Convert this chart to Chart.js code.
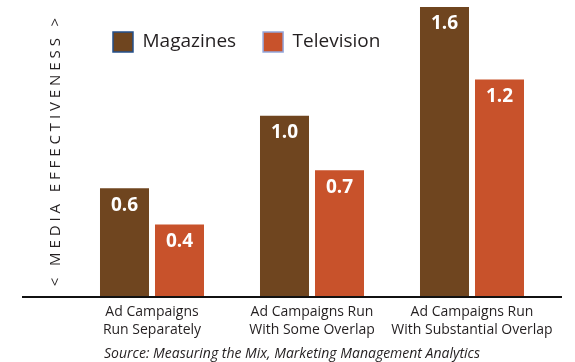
<!DOCTYPE html>
<html>
<head>
<meta charset="utf-8">
<script src="https://cdn.jsdelivr.net/npm/chart.js@4.4.1/dist/chart.umd.min.js"></script>
<style>
  html, body { margin: 0; padding: 0; background: #fff; }
  #wrap { width: 575px; height: 362px; }
</style>
</head>
<body>
<div id="wrap"><canvas id="mixChart"></canvas></div>
<script>
// data
const categories = [
    ['Ad Campaigns', 'Run Separately'],
    ['Ad Campaigns Run', 'With Some Overlap'],
    ['Ad Campaigns Run', 'With Substantial Overlap']
];
const seriesNames = ['Magazines', 'Television'];
const magazines = [0.6, 1.0, 1.6];
const television = [0.4, 0.7, 1.2];
const barColors = ['#6f451f', '#c8522b'];
const legendBorders = ['#24508c', '#93a6dc'];
const yTitle = '<   M E D I A   E F F E C T I V E N E S S   >';
const sourceText = 'Source: Measuring the Mix, Marketing Management Analytics';

const textColor = '#231f20';
const fontFamily = '"Open Sans", "Noto Sans", sans-serif';

// bar values printed inside the top of each bar
const valueLabels = {
    id: 'valueLabels',
    afterDatasetsDraw(chart) {
        const ctx = chart.ctx;
        ctx.save();
        ctx.fillStyle = '#ffffff';
        ctx.font = 'bold 19px ' + fontFamily;
        ctx.textAlign = 'center';
        ctx.textBaseline = 'middle';
        chart.data.datasets.forEach((ds, i) => {
            chart.getDatasetMeta(i).data.forEach((bar, j) => {
                ctx.fillText(ds.data[j].toFixed(1), bar.x, bar.y + 17);
            });
        });
        ctx.restore();
    }
};

// long black base line under the bars
const baseLine = {
    id: 'baseLine',
    afterDatasetsDraw(chart) {
        const ctx = chart.ctx;
        const y = chart.scales.y.getPixelForValue(0);
        ctx.save();
        ctx.strokeStyle = '#111111';
        ctx.lineWidth = 2;
        ctx.beginPath();
        ctx.moveTo(22, y);
        ctx.lineTo(562, y);
        ctx.stroke();
        ctx.restore();
    }
};

// legend sits inside the plot, not above it
const legendSpot = {
    id: 'legendSpot',
    afterLayout(chart) {
        const lg = chart.legend;
        const pad = chart.options.plugins.legend.labels.padding;
        lg.left = 113 - pad;
        lg.top = 32 - pad;
        lg.right = 552;
        lg.bottom = lg.top + 80;
    }
};

const ctx = document.getElementById('mixChart').getContext('2d');
new Chart(ctx, {
    type: 'bar',
    data: {
        labels: categories,
        datasets: [{
            label: seriesNames[0],
            data: magazines,
            backgroundColor: barColors[0]
        }, {
            label: seriesNames[1],
            data: television,
            backgroundColor: barColors[1]
        }]
    },
    options: {
        responsive: true,
        maintainAspectRatio: false,
        animation: false,
        categoryPercentage: 0.6875,
        barPercentage: 0.891,
        layout: { padding: { left: 32, right: 23, top: 7, bottom: 0 } },
        scales: {
            x: {
                grid: { display: false, drawTicks: false },
                border: { display: false },
                ticks: {
                    color: textColor,
                    font: { family: fontFamily, size: 14, lineHeight: 1.29 },
                    padding: 6,
                    maxRotation: 0,
                    autoSkip: false
                }
            },
            y: {
                min: 0,
                max: 1.6,
                grid: { display: false, drawTicks: false },
                border: { display: false },
                ticks: { display: false },
                title: {
                    display: true,
                    text: yTitle,
                    color: textColor,
                    font: { family: fontFamily, size: 15, lineHeight: 1.2 },
                    padding: { top: 15, bottom: 7 }
                }
            }
        },
        plugins: {
            legend: {
                position: 'top',
                align: 'start',
                maxHeight: 0.01,
                labels: {
                    color: textColor,
                    font: { family: fontFamily, size: 19 },
                    boxWidth: 20,
                    boxHeight: 20,
                    padding: 27,
                    generateLabels(chart) {
                        const items = Chart.defaults.plugins.legend.labels.generateLabels(chart);
                        items.forEach((item, i) => {
                            item.strokeStyle = legendBorders[i];
                            item.lineWidth = 1.5;
                        });
                        return items;
                    }
                }
            },
            title: {
                display: true,
                position: 'bottom',
                text: sourceText,
                color: textColor,
                font: { family: fontFamily, size: 14, style: 'italic', weight: 'normal', lineHeight: 1.2 },
                padding: { top: 0, bottom: 0 }
            },
            tooltip: { enabled: false }
        }
    },
    plugins: [valueLabels, baseLine, legendSpot]
});
</script>
</body>
</html>
